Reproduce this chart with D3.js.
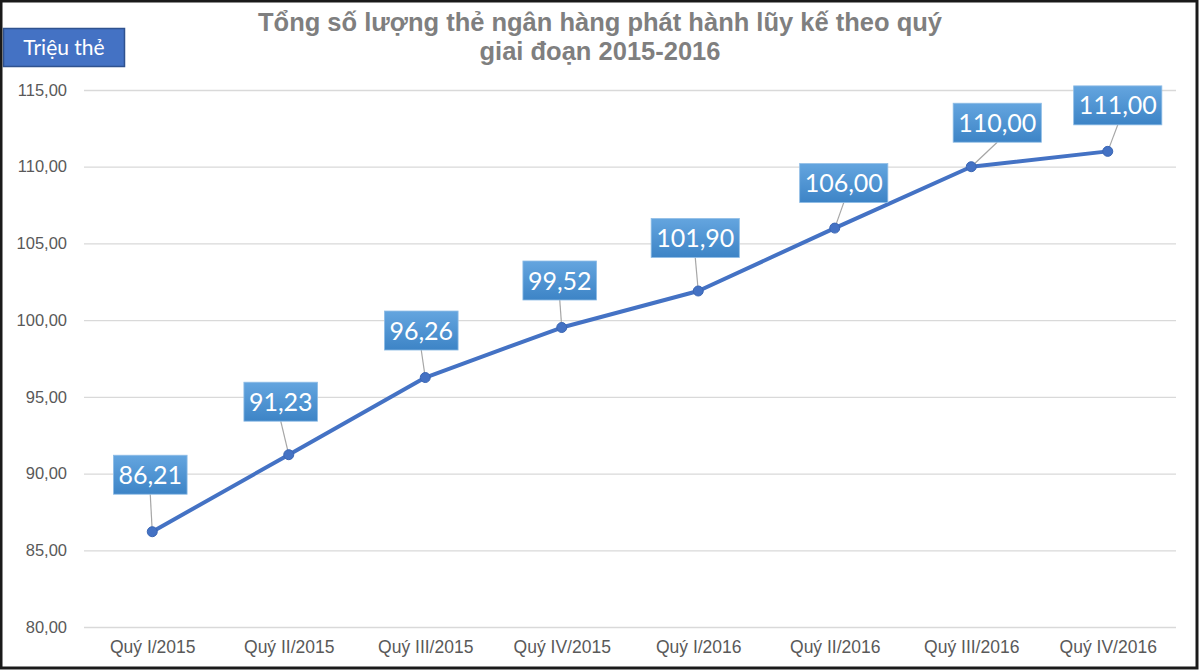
<!DOCTYPE html>
<html>
<head>
<meta charset="utf-8">
<script src="https://cdn.jsdelivr.net/npm/d3@7"></script>
<style>
  html, body { margin: 0; padding: 0; background: #fff; }
  svg { display: block; }
</style>
</head>
<body>
<svg id="chart" width="1200" height="671"></svg>
<script>
// ---- data ----
const categories = ["Quý I/2015", "Quý II/2015", "Quý III/2015", "Quý IV/2015",
                    "Quý I/2016", "Quý II/2016", "Quý III/2016", "Quý IV/2016"];
const values = [86.21, 91.23, 96.26, 99.52, 101.90, 106.00, 110.00, 111.00];
const yTicks = [80, 85, 90, 95, 100, 105, 110, 115];
const titleLines = ["Tổng số lượng thẻ ngân hàng phát hành lũy kế theo quý", "giai đoạn 2015-2016"];
const unitLabel = "Triệu thẻ";
// label box offsets (layout, relative to each point)
const labelOffsets = [[-2,-57],[-8,-53],[-4,-47],[-2,-47],[-3,-53],[9,-45],[26,-44],[10,-46]];

const fmt = v => d3.format(".2f")(v).replace(".", ",");

const svg = d3.select("#chart");

const x = d3.scalePoint().domain(categories).range([84, 1176]).padding(0.5);
const y = d3.scaleLinear().domain([80, 115]).range([627, 90]);

// defs gradient
const defs = svg.append("defs");
const grad = defs.append("linearGradient").attr("id", "lblGrad")
  .attr("x1", 0).attr("y1", 0).attr("x2", 0).attr("y2", 1);
grad.append("stop").attr("offset", "0%").attr("stop-color", "#64a5df");
grad.append("stop").attr("offset", "100%").attr("stop-color", "#3d84c6");

// gridlines via axis
const yAxis = d3.axisLeft(y).tickValues(yTicks).tickSize(-(1176 - 84)).tickFormat(fmt).tickPadding(17);
const gy = svg.append("g").attr("transform", "translate(84,0)").call(yAxis);
gy.select(".domain").remove();
gy.selectAll(".tick line").attr("stroke", "#d9d9d9").attr("stroke-width", 1.3);
gy.selectAll(".tick text").attr("fill", "#595959")
  .style("font-family", "'Liberation Sans', Arial, sans-serif").style("font-size", "16.5px");

const xAxis = d3.axisBottom(x).tickSize(0).tickPadding(14);
const gx = svg.append("g").attr("transform", "translate(0,627)").call(xAxis);
gx.select(".domain").remove();
gx.selectAll(".tick text").attr("fill", "#595959")
  .style("font-family", "'Liberation Sans', Arial, sans-serif").style("font-size", "17.5px");

// line
const line = d3.line().x((d, i) => x(categories[i])).y(d => y(d));
svg.append("path").datum(values).attr("d", line)
  .attr("fill", "none").attr("stroke", "#4472c4").attr("stroke-width", 4)
  .attr("stroke-linejoin", "round").attr("stroke-linecap", "round");

// leader lines + labels
const lbl = svg.append("g");
values.forEach((v, i) => {
  const px = x(categories[i]), py = y(v);
  const cx = px + labelOffsets[i][0], cy = py + labelOffsets[i][1];
  const g = lbl.append("g");
  const t = g.append("text").attr("x", cx).attr("y", cy).attr("text-anchor", "middle")
    .attr("dy", "0.36em").attr("fill", "#fff")
    .style("font-family", "Lato, 'Open Sans', sans-serif").style("font-size", "25px")
    .text(fmt(v));
  const tw = t.node().getComputedTextLength();
  const bw = tw + 10, bh = 39;
  svg.insert("line", "path").attr("x1", cx).attr("y1", cy + bh / 2).attr("x2", px).attr("y2", py)
    .attr("stroke", "#a6a6a6").attr("stroke-width", 1.2);
  g.insert("rect", "text").attr("x", cx - bw / 2).attr("y", cy - bh / 2)
    .attr("width", bw).attr("height", bh).attr("fill", "url(#lblGrad)")
    .attr("stroke", "#8fbde6").attr("stroke-width", 0.8);
});

// markers
svg.append("g").selectAll("circle").data(values).join("circle")
  .attr("cx", (d, i) => x(categories[i])).attr("cy", d => y(d)).attr("r", 5)
  .attr("fill", "#4472c4").attr("stroke", "#3b66b3").attr("stroke-width", 1);

lbl.raise();

// title
const title = svg.append("text").attr("x", 600).attr("y", 31).attr("text-anchor", "middle")
  .attr("fill", "#7f7f7f")
  .style("font-family", "'Liberation Sans', Arial, sans-serif").style("font-weight", "bold")
  .style("font-size", "25.5px");
titleLines.forEach((l, i) => title.append("tspan").attr("x", 600).attr("dy", i === 0 ? 0 : 29).text(l));

// unit box
svg.append("rect").attr("x", 3.5).attr("y", 28.5).attr("width", 121).attr("height", 38)
  .attr("fill", "#4472c4").attr("stroke", "#2f528f").attr("stroke-width", 1.5);
svg.append("text").attr("x", 64).attr("y", 47).attr("dy", "0.36em").attr("text-anchor", "middle")
  .attr("fill", "#fff").style("font-family", "Lato, 'Open Sans', sans-serif").style("font-size", "21px")
  .text(unitLabel);

// outer border
svg.append("rect").attr("x", 1).attr("y", 1).attr("width", 1196).attr("height", 667)
  .attr("fill", "none").attr("stroke", "#1a1a1a").attr("stroke-width", 3);
</script>
</body>
</html>
